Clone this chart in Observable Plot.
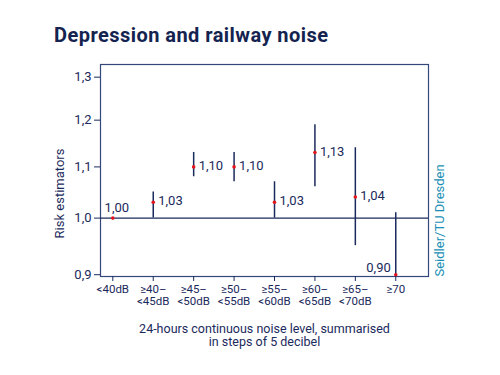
<!DOCTYPE html>
<html>
<head>
<meta charset="utf-8">
<script src="https://cdn.jsdelivr.net/npm/d3@7"></script>
<script src="https://cdn.jsdelivr.net/npm/@observablehq/plot@0.6"></script>
<style>
  html, body { margin: 0; padding: 0; background: #fff; }
  #wrap { position: relative; width: 500px; height: 375px; font-family: Roboto, "DejaVu Sans", sans-serif; }
  #title { position: absolute; left: 54px; top: 24px; font-size: 20px; letter-spacing: 0.45px; font-weight: 700; color: #14234f; line-height: 22px; white-space: nowrap; }
  #chart { position: absolute; left: 0; top: 0; }
</style>
</head>
<body>
<div id="wrap">
  <div id="chart"></div>
  <div id="title">Depression and railway noise</div>
</div>
<script>
const categories = ["<40dB", "≥40–\n<45dB", "≥45–\n<50dB", "≥50–\n<55dB", "≥55–\n<60dB", "≥60–\n<65dB", "≥65–\n<70dB", "≥70"];
const estimates = [1.00, 1.03, 1.10, 1.10, 1.03, 1.13, 1.04, 0.90];
const lower =     [1.00, 1.00, 1.08, 1.07, 1.00, 1.06, 0.95, 0.85];
const upper =     [1.00, 1.05, 1.13, 1.13, 1.07, 1.19, 1.14, 1.01];
const yTicks = [0.9, 1.0, 1.1, 1.2, 1.3];

const navy = "#1b2a5c";
const red = "#e3141c";
const fmt = v => v.toFixed(2).replace(".", ",");

const data = categories.map((c, i) => ({i, cat: c, est: estimates[i], lo: lower[i], hi: upper[i]}));

const chart = Plot.plot({
  width: 500,
  height: 375,
  marginLeft: 100,
  marginRight: 72,
  marginTop: 64,
  marginBottom: 99,
  style: {fontFamily: "Roboto, sans-serif", fontSize: "12px", color: navy, background: "white"},
  x: {type: "linear", domain: [-0.305, 7.81]},
  y: {type: "log", domain: [0.897, 1.331]},
  marks: [
    Plot.frame({stroke: "#34477a", strokeWidth: 1.2}),
    Plot.ruleY([1], {stroke: navy, strokeWidth: 1.2}),
    Plot.ruleX(data.filter(d => d.hi > d.lo), {x: "i", y1: "lo", y2: "hi", stroke: navy, strokeWidth: 1.5, clip: true}),
    Plot.dot(data, {x: "i", y: "est", r: 1.8, fill: red, stroke: "none", clip: false}),
    Plot.text(data.filter(d => d.i === 0), {x: "i", y: "est", text: d => fmt(d.est), dx: 4, dy: -10, fill: navy, fontSize: 13}),
    Plot.text(data.filter(d => d.i > 0 && d.i < 7), {x: "i", y: "est", text: d => fmt(d.est), dx: 5, dy: -1, textAnchor: "start", fill: navy, fontSize: 13}),
    Plot.text(data.filter(d => d.i === 7), {x: "i", y: "est", text: d => fmt(d.est), dx: -5, dy: -7, textAnchor: "end", fill: navy, fontSize: 13}),
    Plot.axisY({ticks: yTicks, tickFormat: v => v.toFixed(1).replace(".", ","), tickSize: 6, tickPadding: 3, fontSize: 13, stroke: navy, fill: navy, label: null}),
    Plot.axisX({ticks: d3.range(categories.length), tickFormat: i => categories[i], tickSize: 5, tickPadding: 3, fontSize: 11.5, lineHeight: 1.05, stroke: navy, fill: navy, label: null}),
    Plot.text(["Risk estimators"], {frameAnchor: "left", textAnchor: "middle", dx: -41, dy: 23, rotate: -90, fill: navy, fontSize: 13}),
    Plot.text(["Seidler/TU Dresden"], {frameAnchor: "bottom-right", dx: 15, textAnchor: "start", rotate: -90, fill: "#1a8fb5", fontSize: 13}),
    Plot.text(["24-hours continuous noise level, summarised\nin steps of 5 decibel"], {frameAnchor: "bottom", dy: 48, lineAnchor: "top", lineHeight: 1.0, fill: navy, fontSize: 12.5})
  ]
});
document.getElementById("chart").appendChild(chart);
</script>
</body>
</html>
